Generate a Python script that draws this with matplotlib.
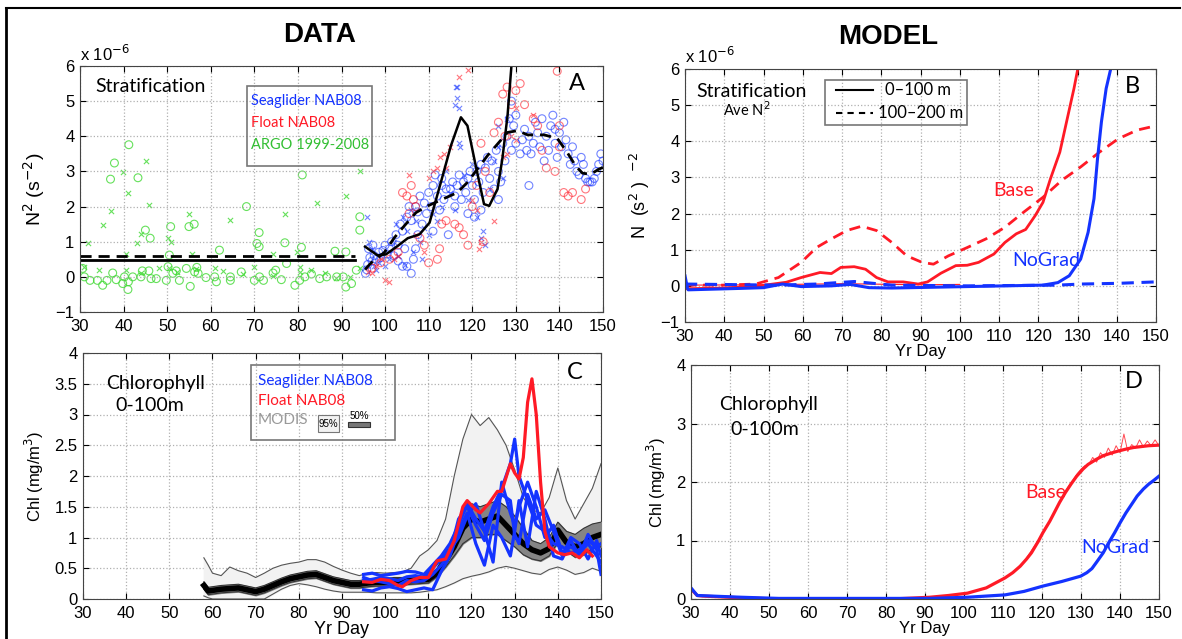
import matplotlib
matplotlib.use("Agg")
import matplotlib.pyplot as plt
from matplotlib.patches import Rectangle
import numpy as np

plt.rcParams['font.family'] = ['Liberation Sans', 'DejaVu Sans']
TXT = 'Lato'

# ---------------- panel A : stratification data (units 1e-6 s^-2) ----------------
argo_o_day = [37.9, 37.0, 43.3, 41.2, 45.0, 46.1, 50.8, 55.0, 56.2, 68.2, 71.1, 70.6, 71.1, 77.0,
              80.8, 81.0, 88.5, 91.0, 94.2, 94.2, 62.0, 50.5,
              30.6, 31.0, 32.3, 34.0, 35.2, 36.2, 37.5, 38.3, 39.8, 40.2, 41.0, 41.1, 42.1, 44.0,
              44.3, 45.8, 46.3, 47.5, 49.8, 50.2, 51.3, 52.1, 52.8, 54.4, 55.3, 56.3, 57.1, 56.8,
              58.9, 60.9, 61.3, 64.5, 64.5, 67.0, 70.0, 71.2, 72.1, 74.3, 74.9, 76.2, 77.4, 79.3,
              80.4, 81.6, 83.1, 85.0, 86.6, 88.9, 90.4, 91.0, 92.3, 93.4]
argo_o_val = [3.24, 2.78, 2.82, 3.76, 1.33, 1.10, 1.43, 1.43, 1.50, 2.00, 1.26, 0.95, 0.86, 0.97,
              0.84, 2.90, 0.73, 0.71, 1.71, 1.33, 0.76, 0.62,
              0.24, 0.00, -0.10, -0.10, -0.24, -0.10, 0.11, -0.08, -0.19, 0.00, -0.36, -0.14, 0.00, 0.00,
              0.17, 0.17, -0.05, -0.05, -0.10, 0.29, 0.10, 0.17, -0.10, 0.24, -0.27, 0.14, 0.10, 0.27,
              -0.02, 0.00, -0.14, 0.00, -0.10, 0.14, -0.10, 0.00, -0.10, 0.11, 0.19, -0.08, 0.38, -0.24,
              -0.10, 0.00, 0.08, -0.05, 0.00, 0.00, 0.00, -0.29, -0.19, 0.19]
argo_x_day = [31.8, 35.2, 37.1, 39.9, 41.0, 45.2, 45.8, 43.0, 44.0, 40.6, 55.1, 50.2, 50.8, 64.5,
              77.0, 84.3, 91.0, 94.2, 55.7, 74.3, 79.7,
              31.0, 34.4, 40.6, 44.0, 48.2, 50.5, 52.2, 56.7, 60.9, 62.8, 67.4, 70.0, 74.3, 80.4,
              80.4, 83.1, 86.1, 88.7, 91.9, 94.2]
argo_x_val = [0.95, 1.48, 1.86, 2.97, 2.38, 3.29, 2.05, 0.95, 1.22, 0.65, 1.79, 1.10, 1.00, 1.62,
              1.79, 2.10, 2.30, 3.00, 0.65, 0.65, 0.71,
              0.29, 0.19, 0.19, 0.10, 0.24, 0.24, 0.14, 0.21, 0.24, 0.17, 0.08, 0.29, 0.02, 0.29,
              0.14, 0.19, 0.10, -0.04, 0.00, 0.24]

glider_o_day = [95.5, 95.8, 96.0, 96.5, 97.0, 97.5, 98.0, 98.5, 99.0, 99.5, 100.0, 100.5, 101.0, 96.2, 97.2,
                101.5, 102.0, 102.5, 103.0, 103.5, 104.0, 104.5, 105.0, 105.0, 105.5, 106.0, 106.5, 106.0,
                107.0, 107.5, 103.0, 104.0,
                107.0, 107.5, 108.0, 108.5, 109.0, 109.5, 110.0, 110.5, 111.0, 111.0, 111.5, 112.0, 112.5,
                113.0, 113.5, 113.0, 114.0, 114.5,
                115.0, 115.5, 116.0, 116.0, 116.5, 117.0, 117.5, 118.0, 118.5, 119.0, 119.0, 119.5, 120.0,
                120.5, 120.5, 121.0, 121.5, 122.0, 122.0, 122.5,
                123.0, 123.5, 124.0, 124.5, 125.0, 125.5, 126.0, 126.0, 126.5, 127.0, 127.5, 128.0, 128.5,
                129.0, 129.0, 129.5, 130.0, 130.0,
                131.0, 131.5, 132.0, 132.5, 133.0, 133.0, 133.5, 134.0, 134.5, 135.0, 135.5, 136.0, 136.5,
                137.0, 137.5, 138.0, 138.5, 139.0, 139.0, 139.5, 140.0, 140.5, 141.0,
                141.5, 142.0, 142.5, 143.0, 143.5, 144.0, 144.5, 145.0, 145.5, 146.0, 146.5, 147.0, 147.5,
                148.0, 148.5, 149.0, 149.5, 150.0]
glider_o_val = [0.10, 0.20, 0.35, 0.55, 0.45, 0.60, 0.50, 0.70, 0.55, 0.75, 0.90, 0.65, 0.80, 0.80, 0.90,
                1.00, 0.60, 1.20, 0.90, 1.50, 1.30, 0.80, 1.70, 0.30, 2.00, 1.60, 0.50, 0.10,
                0.80, 1.20, 0.45, 0.30,
                2.00, 1.85, 2.30, 1.50, 2.10, 1.80, 2.40, 2.00, 2.60, 1.30, 2.90, 2.30, 1.90,
                2.60, 2.20, 2.80, 2.50, 1.20,
                2.50, 2.70, 2.30, 2.00, 2.60, 2.90, 2.20, 2.70, 2.40, 2.80, 1.80, 3.00, 2.60,
                2.20, 1.70, 3.00, 2.70, 3.20, 1.90, 2.40,
                3.10, 3.40, 2.80, 3.30, 2.50, 3.60, 3.00, 2.20, 2.70, 3.80, 3.30, 4.00, 4.50,
                5.00, 3.60, 4.30, 4.60, 3.80,
                3.50, 3.90, 4.20, 3.60, 2.60, 4.00, 3.50, 3.80, 4.40, 4.10, 3.70, 4.50, 3.30,
                4.00, 3.60, 4.30, 4.60, 4.20, 3.80, 3.40, 4.10, 3.70, 4.40,
                3.90, 3.50, 3.20, 3.70, 3.30, 3.00, 2.90, 3.40, 3.20, 2.80, 2.70, 2.70, 2.70,
                2.80, 3.00, 3.20, 3.50, 3.30]
glider_x_day = [95.8, 96.3, 97.0, 97.5, 98.0, 98.5, 99.0, 100.0, 101.0, 102.0, 102.5, 103.0, 104.0,
                104.5, 105.0, 106.0, 106.5, 107.0, 108.0, 108.5, 109.0, 110.0, 111.0, 112.0, 113.0,
                114.0, 115.0, 116.0, 116.3, 116.6, 116.0, 116.5, 117.0, 117.0, 117.2, 118.0, 119.0,
                120.0, 121.0, 122.0, 122.5, 123.0, 124.0, 125.0, 126.0, 127.0, 128.0, 126.0]
glider_x_val = [1.70, 1.00, 0.80, 0.30, 0.20, 0.40, 0.60, 0.30, 0.50, 1.00, 1.50, 0.60, 1.70,
                0.35, 1.30, 1.90, 0.70, 1.60, 1.00, 0.50, 1.40, 1.20, 1.80, 1.60, 2.00,
                3.00, 2.40, 1.90, 5.40, 5.40, 4.90, 5.10, 4.80, 3.80, 3.70, 2.90, 2.20,
                3.20, 1.70, 1.10, 1.30, 0.90, 2.50, 3.30, 4.30, 2.80, 4.50, 3.70]

float_o_day = [97, 99, 101, 104, 105, 105.5, 106, 106.5, 108, 109, 110, 112, 113, 114, 116, 117, 118,
               119, 120, 121, 122, 122.5, 123, 124, 125, 126, 127, 127.5, 128, 129, 130, 131, 132,
               134, 135, 136, 137, 139, 140, 141, 142, 143, 145, 146, 139.5, 140, 112.5, 107, 103]
float_o_val = [0.25, 0.40, 0.50, 2.40, 2.30, 1.80, 2.60, 2.20, 1.10, 0.90, 0.40, 0.50, 1.50, 1.60, 1.50,
               1.40, 1.20, 0.90, 2.00, 2.60, 3.80, 1.00, 3.00, 2.40, 4.10, 4.40, 5.20, 4.00, 5.40, 4.90,
               5.30, 5.50, 4.90, 4.50, 4.30, 3.60, 3.10, 3.00, 3.70, 2.40, 2.30, 2.40, 2.20, 2.50, 5.85,
               4.30, 0.80, 2.00, 0.70]
float_x_day = [96, 97, 98, 99, 100, 101, 102, 103, 105.5, 107, 109, 110, 111, 112, 112.5, 113.5, 114,
               115, 117, 119, 120, 121, 121.5, 122, 125, 127, 128, 129, 130, 130, 134]
float_x_val = [0.15, 0.10, 0.30, 0.50, -0.10, -0.15, 0.50, 0.60, 2.90, 1.20, 0.70, 2.80, 3.00, 3.10,
               3.40, 3.50, 3.10, 3.70, 5.70, 5.90, 2.20, 1.90, 0.80, 1.00, 1.60, 3.40, 3.50, 4.00, 3.90,
               4.80, 4.60]

argo_mean_day = [30, 93]
argo_solid_val = [0.48, 0.48]
argo_dash_val = [0.60, 0.60]

fit_solid_day = [95.4, 98.3, 100.2, 102.9, 105.2, 107.9, 110.2, 112.8, 115.1, 117.4, 118.9, 120.8,
                 122.7, 123.9, 125.8, 126.9, 128.1, 129.0]
fit_solid_val = [0.86, 0.61, 0.64, 0.88, 1.10, 1.21, 1.54, 2.69, 3.73, 4.54, 4.30, 3.16,
                 2.07, 2.02, 2.50, 3.35, 4.59, 6.02]
fit_dash_day = [95.4, 96.8, 99.8, 102.1, 104.4, 107.1, 109.8, 113.2, 116.6, 118.9, 121.2, 123.5,
                125.8, 128.1, 130.4, 132.7, 136.5, 139.5, 141.8, 143.7, 145.3, 147.2, 149.1, 150.0]
fit_dash_val = [0.21, 0.40, 0.69, 1.11, 1.45, 1.83, 2.02, 2.21, 2.40, 2.69, 3.07, 3.45,
                3.78, 4.11, 4.16, 4.04, 4.04, 3.94, 3.54, 3.16, 2.95, 2.92, 3.07, 3.11]

# ---------------- panel B : model stratification ----------------
base_s_day = [30, 40, 49, 55.8, 59.6, 64.4, 67.3, 69.7, 73.1, 76.0, 78.8, 81.7, 85.6, 89.4, 91.8, 95.2,
              99.0, 101.9, 104.8, 108.7, 111.5, 114.4, 116.8, 119.2, 121.2, 123.1, 125.5, 127.4, 129.1, 130.1]
base_s_val = [-0.08, -0.06, 0.00, 0.10, 0.23, 0.37, 0.34, 0.51, 0.53, 0.46, 0.23, 0.11, 0.11, 0.05, 0.11,
              0.35, 0.56, 0.57, 0.65, 0.88, 1.20, 1.44, 1.56, 1.94, 2.31, 2.96, 3.70, 4.63, 5.46, 6.02]
base_d_day = [30, 39.4, 48, 53.8, 59.6, 63.5, 67.3, 71.2, 75.0, 78.8, 82.7, 86.5, 90.4, 93.3, 97.1,
              101.9, 106.7, 111.5, 116.3, 121.2, 126.0, 130.8, 135.6, 140.4, 145.2, 150.0]
base_d_val = [0.02, 0.02, 0.05, 0.23, 0.65, 1.06, 1.30, 1.53, 1.65, 1.53, 1.20, 0.83, 0.65, 0.60, 0.83,
              1.06, 1.30, 1.62, 2.04, 2.45, 2.92, 3.29, 3.70, 4.07, 4.31, 4.43]
base_thin_day = [30, 50, 70, 90, 100]
base_thin_val = [0.02, 0.03, 0.06, 0.03, 0.04]
nograd_s_day = [30, 30.6, 30.8, 44.2, 50.0, 54.8, 59.6, 67.3, 72.1, 76.9, 82.7, 92.3, 101.9, 111.5,
                121.2, 125.0, 127.9, 130.8, 132.7, 134.2, 135.1, 136.1, 137.3, 138.5]
nograd_s_val = [0.28, -0.05, -0.11, -0.07, -0.05, 0.05, -0.02, 0.00, 0.04, -0.05, -0.06, -0.04, -0.02, 0.00,
                0.02, 0.09, 0.28, 0.74, 1.48, 2.41, 3.52, 4.54, 5.46, 6.02]
nograd_d_day = [30, 53.8, 63.5, 73.1, 82.7, 101.9, 125.0, 130.8, 140.4, 150.0]
nograd_d_val = [0.05, 0.02, 0.05, 0.12, 0.02, 0.00, 0.02, 0.05, 0.07, 0.11]

# ---------------- panel C : chlorophyll data ----------------
modis_day = [58, 59, 60, 62, 64, 66, 68, 70, 72, 74, 76, 78, 80, 82, 84, 86, 88, 90, 92, 94, 96, 98,
             100, 102, 104, 106, 108, 110, 112, 114, 116, 118, 120, 122, 124, 126, 128, 130, 132, 134,
             136, 138, 140, 142, 144, 146, 148, 150]
modis_mean = [0.22, 0.13, 0.14, 0.16, 0.17, 0.18, 0.15, 0.12, 0.16, 0.22, 0.28, 0.33, 0.36, 0.39, 0.40,
              0.35, 0.30, 0.27, 0.24, 0.24, 0.26, 0.27, 0.27, 0.29, 0.29, 0.30, 0.31, 0.32, 0.42, 0.62,
              0.85, 1.15, 1.30, 1.25, 1.30, 1.35, 1.20, 1.05, 0.90, 0.80, 0.75, 0.82, 1.12, 0.92, 0.85,
              0.90, 1.00, 1.05]
modis_u95 = [0.67, 0.55, 0.42, 0.38, 0.52, 0.46, 0.42, 0.35, 0.42, 0.50, 0.55, 0.58, 0.60, 0.64, 0.64,
             0.60, 0.53, 0.47, 0.42, 0.38, 0.42, 0.43, 0.42, 0.43, 0.44, 0.50, 0.70, 0.80, 0.95, 1.30,
             2.00, 2.60, 3.00, 2.82, 2.95, 2.75, 2.50, 2.10, 1.65, 1.45, 1.40, 1.65, 2.13, 1.60, 1.30,
             1.55, 1.80, 2.20]
modis_l95 = [0.05, 0.02, 0.00, 0.00, 0.00, 0.00, 0.00, 0.00, 0.00, 0.08, 0.16, 0.22, 0.25, 0.23, 0.20,
             0.16, 0.13, 0.11, 0.11, 0.11, 0.11, 0.10, 0.10, 0.10, 0.10, 0.10, 0.11, 0.13, 0.15, 0.20,
             0.26, 0.33, 0.37, 0.40, 0.44, 0.50, 0.53, 0.50, 0.46, 0.42, 0.40, 0.48, 0.52, 0.47, 0.40,
             0.43, 0.50, 0.45]
modis_u50 = [0.28, 0.19, 0.20, 0.22, 0.23, 0.24, 0.21, 0.18, 0.22, 0.28, 0.34, 0.39, 0.42, 0.45, 0.46,
             0.41, 0.36, 0.33, 0.30, 0.30, 0.32, 0.33, 0.33, 0.35, 0.35, 0.36, 0.37, 0.38, 0.50, 0.75,
             1.05, 1.45, 1.55, 1.50, 1.55, 1.60, 1.50, 1.35, 1.15, 0.95, 0.90, 1.00, 1.25, 1.10, 1.05,
             1.15, 1.22, 1.25]
modis_l50 = [0.16, 0.07, 0.08, 0.10, 0.11, 0.12, 0.09, 0.06, 0.10, 0.16, 0.22, 0.27, 0.30, 0.33, 0.34,
             0.29, 0.24, 0.21, 0.18, 0.18, 0.20, 0.21, 0.21, 0.23, 0.23, 0.24, 0.25, 0.26, 0.36, 0.52,
             0.70, 0.90, 1.00, 1.00, 1.05, 1.05, 0.95, 0.85, 0.72, 0.65, 0.62, 0.70, 0.92, 0.78, 0.68,
             0.72, 0.82, 0.85]

glider_chl_day = [95, 97, 99, 101, 103, 105, 107, 109, 111, 113, 115, 117, 119, 121, 123, 125, 127,
                  129, 130, 131, 133, 135, 137, 139, 141, 143, 145, 147, 149, 150]
glider_chl_1 = [0.40, 0.42, 0.38, 0.40, 0.42, 0.45, 0.44, 0.40, 0.55, 0.70, 0.90, 1.20, 1.55, 1.30, 1.10,
                1.50, 1.80, 2.20, 2.60, 2.00, 1.60, 1.20, 1.10, 0.90, 0.85, 0.75, 0.80, 0.95, 0.85, 0.90]
glider_chl_2 = [0.30, 0.32, 0.35, 0.33, 0.30, 0.36, 0.38, 0.35, 0.50, 0.65, 0.80, 1.00, 1.35, 1.55, 1.10,
                0.60, 1.90, 1.40, 1.20, 1.50, 1.90, 1.50, 1.00, 1.20, 0.75, 0.85, 0.75, 0.90, 0.70, 0.60]
glider_chl_3 = [0.15, 0.13, 0.18, 0.20, 0.17, 0.12, 0.15, 0.18, 0.15, 0.45, 0.70, 1.10, 1.40, 0.90, 0.55,
                1.20, 1.00, 0.70, 1.10, 1.60, 0.85, 1.75, 1.30, 0.70, 0.65, 0.95, 0.70, 1.05, 0.80, 0.40]
glider_chl_4 = [0.35, 0.30, 0.28, 0.25, 0.22, 0.30, 0.28, 0.30, 0.40, 0.55, 0.75, 1.30, 1.50, 1.20, 0.95,
                1.40, 1.70, 1.60, 1.05, 0.90, 1.70, 1.30, 1.45, 1.10, 0.70, 1.00, 0.90, 0.65, 0.95, 0.70]
float_chl_day = [95, 97, 99, 101, 103, 104, 106, 108, 110, 112, 114, 116, 118, 119, 121, 122, 124, 126,
                 127, 129, 130, 131, 132, 133, 134, 135, 136, 137, 138, 140, 141.6, 143.3, 145, 146.7, 148]
float_chl_val = [0.28, 0.27, 0.32, 0.30, 0.22, 0.20, 0.30, 0.35, 0.35, 0.62, 0.65, 0.95, 1.50, 1.60, 1.45,
                 1.40, 1.55, 1.75, 1.75, 2.20, 2.05, 1.95, 2.30, 3.20, 3.58, 3.00, 1.90, 1.10, 0.85, 0.75,
                 0.72, 0.75, 0.67, 0.80, 0.70]

# ---------------- panel D : model chlorophyll ----------------
base_chl_day = [30, 31.6, 33, 42.8, 52.5, 81.5, 91.2, 96.0, 100.9, 105.7, 110.5, 112.5, 114.4, 116.0,
                117.3, 119.0, 120.2, 122.0, 123.1, 124.5, 126.0, 127.5, 128.9, 130.5, 131.8, 134.0,
                135.7, 138.0, 139.6, 142.0, 143.5, 147.3, 150]
base_chl_val = [0.17, 0.06, 0.05, 0.02, 0.00, 0.00, 0.03, 0.06, 0.10, 0.19, 0.36, 0.45, 0.56, 0.68,
                0.79, 0.98, 1.13, 1.33, 1.47, 1.65, 1.82, 1.97, 2.10, 2.22, 2.30, 2.39,
                2.45, 2.50, 2.53, 2.57, 2.59, 2.62, 2.63]
base_noisy_day = [116, 117, 118, 119, 120, 121, 122, 123, 124, 125, 126, 127, 128, 129, 130, 131, 132, 133,
                  134, 135, 136, 137, 138, 139, 140, 141, 142, 143, 144, 145, 146, 147, 148, 149, 150]
base_noisy_val = [0.70, 0.80, 0.90, 1.00, 1.10, 1.24, 1.33, 1.45, 1.58, 1.72, 1.84, 1.95, 2.04, 2.14, 2.22,
                  2.28, 2.30, 2.42, 2.34, 2.50, 2.42, 2.58, 2.46, 2.62, 2.50, 2.82, 2.52, 2.64, 2.58, 2.72,
                  2.60, 2.70, 2.62, 2.72, 2.62]
nograd_chl_day = [30, 31.6, 42.8, 52.5, 91.2, 100.9, 110.5, 115.4, 120.2, 125.1, 129.9, 131.5, 132.8,
                  134.0, 135.7, 137.0, 138.6, 140.0, 141.5, 143.0, 144.4, 146.0, 147.3, 148.7, 150]
nograd_chl_val = [0.19, 0.06, 0.03, 0.01, 0.01, 0.03, 0.07, 0.13, 0.22, 0.30, 0.39, 0.45, 0.52,
                  0.63, 0.79, 0.95, 1.13, 1.30, 1.47, 1.62, 1.76, 1.88, 1.96, 2.03, 2.10]

BLUE = (0.08, 0.2, 1.0)
RED = (1.0, 0.1, 0.15)
GREEN = (0.25, 0.85, 0.2)
W, H = 1182, 639


def make_ax(l, r, t, b):
    ax = fig.add_axes([l / W, 1 - b / H, (r - l) / W, (b - t) / H])
    ax.grid(True, linestyle=':', color='#b0b0b0', linewidth=0.9)
    ax.tick_params(direction='in', top=True, right=True, labelsize=12, length=4)
    ax.tick_params(axis='x', pad=5)
    ax.tick_params(axis='y', pad=4)
    for s in ax.spines.values():
        s.set_color('#444444')
    ax.set_xlim(30, 150)
    ax.set_xticks(range(30, 151, 10))
    return ax


fig = plt.figure(figsize=(11.82, 6.39), dpi=100)

# outer frame
fig.add_artist(plt.Line2D([6 / W, 6 / W], [0, 1 - 8 / H], color='black', lw=2))
fig.add_artist(plt.Line2D([6 / W, 1180 / W], [1 - 8 / H, 1 - 8 / H], color='black', lw=1.5))

fig.text(320 / W, 1 - 35 / H, 'DATA', ha='center', va='center', fontsize=20, fontweight='bold', family='Liberation Sans')
fig.text(888 / W, 1 - 37 / H, 'MODEL', ha='center', va='center', fontsize=20, fontweight='bold', family='Liberation Sans')

# ---- A
ax = make_ax(80, 603, 66, 312)
ax.set_ylim(-1, 6)
ax.scatter(argo_o_day, argo_o_val, s=32, facecolors='none', edgecolors=GREEN, linewidths=0.8, alpha=0.8)
ax.scatter(argo_x_day, argo_x_val, s=14, marker='x', color=GREEN, linewidths=0.8, alpha=0.8)
ax.scatter(glider_o_day, glider_o_val, s=32, facecolors='none', edgecolors=BLUE, linewidths=0.8, alpha=0.6)
ax.scatter(glider_x_day, glider_x_val, s=14, marker='x', color=BLUE, linewidths=0.8, alpha=0.6)
ax.scatter(float_o_day, float_o_val, s=32, facecolors='none', edgecolors=RED, linewidths=0.8, alpha=0.6)
ax.scatter(float_x_day, float_x_val, s=14, marker='x', color=RED, linewidths=0.8, alpha=0.6)
ax.plot(argo_mean_day, argo_solid_val, color='black', lw=2)
ax.plot(argo_mean_day, argo_dash_val, color='black', lw=2, ls=(0, (4, 2.5)))
ax.plot(fit_solid_day, fit_solid_val, color='black', lw=1.8)
ax.plot(fit_dash_day, fit_dash_val, color='black', lw=2, ls=(0, (4, 2.5)))
ax.set_ylabel(r'N$^2$ (s$^{-2}$)', fontsize=14, labelpad=6)
ax.text(0, 1.01, r'x 10$^{-6}$', transform=ax.transAxes, fontsize=12, va='bottom', ha='left')
ax.text(0.03, 0.915, 'Stratification', transform=ax.transAxes, fontsize=14, family=TXT, va='center')
ax.text(0.965, 0.93, 'A', transform=ax.transAxes, fontsize=17, family=TXT, va='center', ha='right')
ax.add_patch(Rectangle((0.319, 0.593), 0.24, 0.326, transform=ax.transAxes, fill=False,
                       edgecolor='#777777', lw=1.2, zorder=5))
for yy, lab, c in [(0.858, 'Seaglider NAB08', BLUE), (0.768, 'Float NAB08', RED), (0.679, 'ARGO 1999-2008', (0.2, 0.75, 0.2))]:
    ax.text(0.327, yy, lab, transform=ax.transAxes, color=c, fontsize=10.5, family=TXT, va='center')

# ---- B
ax = make_ax(685, 1156, 69, 322)
ax.set_ylim(-1, 6)
ax.plot(base_thin_day, base_thin_val, color=RED, lw=0.8)
ax.plot(base_d_day, base_d_val, color=RED, lw=2, ls=(0, (4, 2.5)))
ax.plot(base_s_day, base_s_val, color=RED, lw=2)
ax.plot(nograd_d_day, nograd_d_val, color=BLUE, lw=2.2, ls=(0, (4, 2.5)))
ax.plot(nograd_s_day, nograd_s_val, color=BLUE, lw=2.2)
ax.set_xlabel('Yr Day', fontsize=12, labelpad=0)
ax.set_ylabel(r'N  (s$^2$ )  $^{-2}$', fontsize=13, labelpad=6)
ax.text(0, 1.01, r'x 10$^{-6}$', transform=ax.transAxes, fontsize=12, va='bottom', ha='left')
ax.text(0.025, 0.91, 'Stratification', transform=ax.transAxes, fontsize=14, family=TXT, va='center')
ax.text(0.08, 0.84, r'Ave N$^2$', transform=ax.transAxes, fontsize=10.5, family=TXT, va='center')
ax.text(0.965, 0.93, 'B', transform=ax.transAxes, fontsize=17, family=TXT, va='center', ha='right')
ax.text(0.654, 0.52, 'Base', transform=ax.transAxes, color=RED, fontsize=14, family=TXT, va='center')
ax.text(0.694, 0.245, 'NoGrad', transform=ax.transAxes, color=BLUE, fontsize=14, family=TXT, va='center')
ax.add_patch(Rectangle((0.297, 0.779), 0.302, 0.178, transform=ax.transAxes, fill=False,
                       edgecolor='#777777', lw=1.2, zorder=5))
ax.plot([0.32, 0.40], [0.917, 0.917], transform=ax.transAxes, color='black', lw=1.5, zorder=6)
ax.plot([0.32, 0.40], [0.826, 0.826], transform=ax.transAxes, color='black', lw=1.5, ls=(0, (3, 2.5)), zorder=6)
ax.text(0.425, 0.917, '0–100 m', transform=ax.transAxes, fontsize=12, family=TXT, va='center')
ax.text(0.41, 0.826, '100–200 m', transform=ax.transAxes, fontsize=12, family=TXT, va='center')

# ---- C
ax = make_ax(83, 601, 353, 599)
ax.set_ylim(0, 4)
ax.set_yticks(np.arange(0, 4.01, 0.5))
ax.set_yticklabels(['0', '0.5', '1', '1.5', '2', '2.5', '3', '3.5', '4'])
ax.fill_between(modis_day, modis_l95, modis_u95, color='#f2f2f2', zorder=2)
ax.plot(modis_day, modis_u95, color='#555555', lw=0.8, zorder=2)
ax.plot(modis_day, modis_l95, color='#555555', lw=0.8, zorder=2)
ax.fill_between(modis_day, modis_l50, modis_u50, color='#858585', zorder=3)
ax.plot(modis_day, modis_u50, color='#333333', lw=0.8, zorder=3)
ax.plot(modis_day, modis_l50, color='#333333', lw=0.8, zorder=3)
ax.plot(modis_day, modis_mean, color='black', lw=4, zorder=4)
for g in [glider_chl_1, glider_chl_2, glider_chl_3, glider_chl_4]:
    ax.plot(glider_chl_day, g, color=BLUE, lw=2.3, zorder=5)
ax.plot(float_chl_day, float_chl_val, color=RED, lw=2.3, zorder=6)
ax.set_xlabel('Yr Day', fontsize=13, labelpad=0)
ax.set_ylabel(r'Chl (mg/m$^3$)', fontsize=12, labelpad=6)
ax.text(0.045, 0.875, 'Chlorophyll', transform=ax.transAxes, fontsize=14, family=TXT, va='center')
ax.text(0.062, 0.785, '0-100m', transform=ax.transAxes, fontsize=14, family=TXT, va='center')
ax.text(0.965, 0.92, 'C', transform=ax.transAxes, fontsize=17, family=TXT, va='center', ha='right')
ax.add_patch(Rectangle((0.325, 0.646), 0.277, 0.305, transform=ax.transAxes, fill=False,
                       edgecolor='#777777', lw=1.2, zorder=7))
for yy, lab, c in [(0.886, 'Seaglider NAB08', BLUE), (0.805, 'Float NAB08', RED), (0.728, 'MODIS', '#999999')]:
    ax.text(0.338, yy, lab, transform=ax.transAxes, color=c, fontsize=11, family=TXT, va='center', zorder=8)
ax.add_patch(Rectangle((0.453, 0.68), 0.042, 0.068, transform=ax.transAxes, facecolor='#f2f2f2',
                       edgecolor='#777777', lw=0.8, zorder=8))
ax.text(0.474, 0.712, '95%', transform=ax.transAxes, fontsize=7, ha='center', va='center', zorder=9)
ax.add_patch(Rectangle((0.512, 0.698), 0.042, 0.022, transform=ax.transAxes, facecolor='#777777',
                       edgecolor='#333333', lw=0.8, zorder=8))
ax.text(0.533, 0.745, '50%', transform=ax.transAxes, fontsize=7, ha='center', va='center', zorder=9)

# ---- D
ax = make_ax(691, 1159, 365, 599)
ax.set_ylim(0, 4)
ax.set_yticks(range(0, 5))
ax.plot(base_noisy_day, base_noisy_val, color=RED, lw=0.7, alpha=0.8)
ax.plot(base_chl_day, base_chl_val, color=RED, lw=2.3)
ax.plot(nograd_chl_day, nograd_chl_val, color=BLUE, lw=2.3)
ax.set_xlabel('Yr Day', fontsize=12, labelpad=0)
ax.set_ylabel(r'Chl (mg/m$^3$)', fontsize=12, labelpad=6)
ax.text(0.06, 0.83, 'Chlorophyll', transform=ax.transAxes, fontsize=14, family=TXT, va='center')
ax.text(0.085, 0.725, '0-100m', transform=ax.transAxes, fontsize=14, family=TXT, va='center')
ax.text(0.965, 0.93, 'D', transform=ax.transAxes, fontsize=17, family=TXT, va='center', ha='right')
ax.text(0.714, 0.457, 'Base', transform=ax.transAxes, color=RED, fontsize=14, family=TXT, va='center')
ax.text(0.833, 0.222, 'NoGrad', transform=ax.transAxes, color=BLUE, fontsize=14, family=TXT, va='center')

fig.savefig('out.png', dpi=100)
